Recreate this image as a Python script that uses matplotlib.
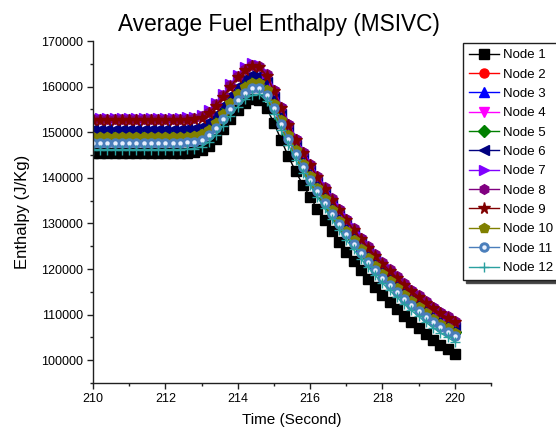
import numpy as np
import matplotlib
matplotlib.use('Agg')
import matplotlib.pyplot as plt
from matplotlib.legend_handler import HandlerTuple

plt.rcParams['font.family'] = ['Liberation Sans', 'DejaVu Sans']

# time axis (s), one sample every 0.2 s
time = np.linspace(210, 220, 51)

node1 = [145400, 145400, 145400, 145400, 145400, 145400, 145400, 145400, 145400, 145400, 145400, 145400, 145400,
         145500, 145600, 146000, 147000, 148600, 150600, 152800, 154800, 156400, 157300,
         157100, 155300, 152000, 148300,
         144700, 141400, 138500, 135800, 133200, 130700, 128300, 126000, 123800, 121700, 119700, 117800,
         116000, 114300, 112700, 111200, 109700, 108300, 107000, 105700, 104500, 103400, 102400, 101400]
node2 = [149800, 149800, 149800, 149800, 149800, 149800, 149800, 149800, 149800, 149800, 149800, 149800, 149800,
         149900, 150000, 150400, 151400, 153000, 155000, 157200, 159200, 160800, 161700,
         161700, 160100, 156900, 153400,
         150000, 146700, 143800, 141100, 138500, 136000, 133600, 131300, 129100, 127000, 125000, 123100,
         121300, 119600, 118000, 116500, 115000, 113600, 112300, 111000, 109800, 108700, 107700, 106700]
node3 = [150000, 150000, 150000, 150000, 150000, 150000, 150000, 150000, 150000, 150000, 150000, 150000, 150000,
         150100, 150200, 150600, 151600, 153200, 155200, 157400, 159400, 161000, 161900,
         161900, 160200, 157100, 153500,
         150100, 146800, 143900, 141200, 138600, 136100, 133700, 131400, 129200, 127100, 125100, 123200,
         121400, 119700, 118100, 116600, 115100, 113700, 112400, 111100, 109900, 108800, 107800, 106800]
node4 = [149600, 149600, 149600, 149600, 149600, 149600, 149600, 149600, 149600, 149600, 149600, 149600, 149600,
         149700, 149800, 150200, 151200, 152800, 154800, 157000, 159000, 160600, 161500,
         161500, 159900, 156700, 153200,
         149800, 146500, 143600, 140900, 138300, 135800, 133400, 131100, 128900, 126800, 124800, 122900,
         121100, 119400, 117800, 116300, 114800, 113400, 112100, 110800, 109600, 108500, 107500, 106500]
node5 = [149200, 149200, 149200, 149200, 149200, 149200, 149200, 149200, 149200, 149200, 149200, 149200, 149200,
         149300, 149400, 149800, 150800, 152400, 154400, 156600, 158600, 160200, 161100,
         161100, 159500, 156400, 152900,
         149500, 146200, 143300, 140600, 138000, 135500, 133100, 130800, 128600, 126500, 124500, 122600,
         120800, 119100, 117500, 116000, 114500, 113100, 111800, 110500, 109300, 108200, 107200, 106200]
node6 = [150800, 150800, 150800, 150800, 150800, 150800, 150800, 150800, 150800, 150800, 150800, 150800, 150800,
         150900, 151000, 151400, 152400, 154000, 156000, 158200, 160200, 161800, 162700,
         162600, 160900, 157700, 154100,
         150600, 147300, 144400, 141700, 139100, 136600, 134200, 131900, 129700, 127600, 125600, 123700,
         121900, 120200, 118600, 117100, 115600, 114200, 112900, 111600, 110400, 109300, 108300, 107300]
node7 = [153200, 153200, 153200, 153200, 153200, 153200, 153200, 153200, 153200, 153200, 153200, 153200, 153200,
         153300, 153400, 153800, 154800, 156400, 158400, 160600, 162600, 164200, 165100,
         164800, 163000, 159600, 155900,
         152200, 148900, 146000, 143300, 140700, 138200, 135800, 133500, 131300, 129200, 127200, 125300,
         123500, 121800, 120200, 118700, 117200, 115800, 114500, 113200, 112000, 110900, 109900, 108900]
node8 = [152900, 152900, 152900, 152900, 152900, 152900, 152900, 152900, 152900, 152900, 152900, 152900, 152900,
         153000, 153100, 153500, 154500, 156100, 158100, 160300, 162300, 163900, 164800,
         164500, 162700, 159300, 155600,
         151900, 148600, 145700, 143000, 140400, 137900, 135500, 133200, 131000, 128900, 126900, 125000,
         123200, 121500, 119900, 118400, 116900, 115500, 114200, 112900, 111700, 110600, 109600, 108600]
node9 = [152600, 152600, 152600, 152600, 152600, 152600, 152600, 152600, 152600, 152600, 152600, 152600, 152600,
         152700, 152800, 153200, 154200, 155800, 157800, 160000, 162000, 163600, 164500,
         164200, 162400, 159000, 155300,
         151600, 148300, 145400, 142700, 140100, 137600, 135200, 132900, 130700, 128600, 126600, 124700,
         122900, 121200, 119600, 118100, 116600, 115200, 113900, 112600, 111400, 110300, 109300, 108300]
node10 = [148900, 148900, 148900, 148900, 148900, 148900, 148900, 148900, 148900, 148900, 148900, 148900, 148900,
          149000, 149100, 149500, 150500, 152100, 154100, 156300, 158300, 159900, 160800,
          160800, 159200, 156200, 152700,
          149300, 146000, 143100, 140400, 137800, 135300, 132900, 130600, 128400, 126300, 124300, 122400,
          120600, 118900, 117300, 115800, 114300, 112900, 111600, 110300, 109100, 108000, 107000, 106000]
node11 = [147700, 147700, 147700, 147700, 147700, 147700, 147700, 147700, 147700, 147700, 147700, 147700, 147700,
          147800, 147900, 148300, 149300, 150900, 152900, 155100, 157100, 158700, 159600,
          159700, 158200, 155200, 151800,
          148500, 145200, 142300, 139600, 137000, 134500, 132100, 129800, 127600, 125500, 123500, 121600,
          119800, 118100, 116500, 115000, 113500, 112100, 110800, 109500, 108300, 107200, 106200, 105200]
node12 = [146200, 146200, 146200, 146200, 146200, 146200, 146200, 146200, 146200, 146200, 146200, 146200, 146200,
          146300, 146400, 146800, 147800, 149400, 151400, 153600, 155600, 157200, 158100,
          158300, 156800, 153900, 150500,
          147300, 144000, 141100, 138400, 135800, 133300, 130900, 128600, 126400, 124300, 122300, 120400,
          118600, 116900, 115300, 113800, 112300, 110900, 109600, 108300, 107100, 106000, 105000, 104000]

nodes = [node1, node2, node3, node4, node5, node6, node7, node8, node9, node10, node11, node12]
labels = ['Node ' + str(i + 1) for i in range(12)]
colors = ['#000000', '#FF0000', '#0000FF', '#FF00FF', '#008000', '#000080',
          '#8000FF', '#800080', '#800000', '#808000', '#4A7EBB', '#2AA0A0']
markers = ['s', 'o', '^', 'v', 'D', '<', '>', 'h', '*', 'p', 'o', '+']
sizes = [6.5, 6.5, 7, 7, 6, 7, 7, 7, 8.5, 7.5, 6.5, 7.5]

fig = plt.figure(figsize=(5.56, 4.41), dpi=100)
ax = fig.add_axes([93 / 556, 1 - 383 / 441, 398 / 556, 342 / 441])

handles = []
for i in range(12):
    ln, = ax.plot(time, nodes[i], color=colors[i], marker=markers[i], markersize=sizes[i],
                  markeredgecolor=colors[i], markeredgewidth=1.0, linewidth=1.0)
    if i == 10:
        # sphere-like symbol: small white highlight on each ball
        hl, = ax.plot(time, nodes[i], linestyle='none', marker='o', markersize=2.2,
                      markerfacecolor='#E8F0FF', markeredgecolor='#E8F0FF')
        handles.append((ln, hl))
    else:
        handles.append(ln)

ax.set_xlim(210, 221)
ax.set_ylim(95000, 170000)
ax.set_xticks(np.arange(210, 221, 2))
ax.set_xticks(np.arange(211, 222, 2), minor=True)
ax.set_yticks(np.arange(100000, 170001, 10000))
ax.set_yticks(np.arange(95000, 170001, 10000), minor=True)

for s in ['top', 'right']:
    ax.spines[s].set_visible(False)
for s in ['left', 'bottom']:
    ax.spines[s].set_linewidth(1.0)
    ax.spines[s].set_color('#202020')

ax.tick_params(which='major', direction='out', length=4, width=1, labelsize=9, pad=3, color='#202020')
ax.tick_params(which='minor', direction='out', length=2.5, width=1, color='#202020')

ax.set_xlabel('Time (Second)', fontsize=11, labelpad=6)
ax.set_ylabel('Enthalpy (J/Kg)', fontsize=12, labelpad=8)
ax.set_title('Average Fuel Enthalpy (MSIVC)', fontsize=16.3, x=0.467, pad=7)

leg = fig.legend(handles, labels, loc='upper left',
                 bbox_to_anchor=(463 / 556, 1 - 43 / 441, 120 / 556, 0), mode='expand',
                 fontsize=9.5, handlelength=2.3, handletextpad=0.3, labelspacing=0.54,
                 borderpad=0.45, borderaxespad=0, fancybox=False, frameon=True,
                 edgecolor='#202020', framealpha=1,
                 shadow={'facecolor': '0.25', 'alpha': 1},
                 handler_map={tuple: HandlerTuple(ndivide=1)})
leg.get_frame().set_linewidth(1.0)

fig.savefig('out.png', dpi=100)
